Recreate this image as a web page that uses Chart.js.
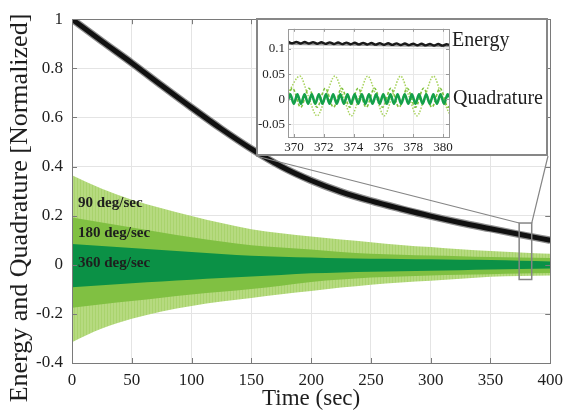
<!DOCTYPE html>
<html>
<head>
<meta charset="utf-8">
<script src="https://cdn.jsdelivr.net/npm/chart.js@4.4.1/dist/chart.umd.min.js"></script>
<style>
  html, body { margin: 0; padding: 0; background: #fff; }
  #wrap { position: relative; width: 570px; height: 417px; }
  #main { position: absolute; left: 0; top: 0; }
  #inset { position: absolute; left: 256px; top: 18px; }
</style>
</head>
<body>
<div id="wrap">
  <canvas id="main" width="570" height="417"></canvas>
  <canvas id="inset" width="292" height="138"></canvas>
</div>
<script>
// ---- main plot data ----
const timeSec = [0, 25, 50, 75, 100, 125, 150, 175, 200, 225, 250, 275, 300, 325, 350, 375, 400];
const energy  = [1.0, 0.91, 0.822, 0.73, 0.64, 0.553, 0.472, 0.40, 0.343, 0.297, 0.26, 0.228, 0.198, 0.171, 0.147, 0.123, 0.10];

// quadrature envelopes (upper / lower)
const q90Upper  = [0.365, 0.31, 0.265, 0.23, 0.199, 0.17, 0.145, 0.128, 0.115, 0.103, 0.092, 0.081, 0.072, 0.063, 0.056, 0.05, 0.045];
const q90Lower  = [-0.315, -0.26, -0.22, -0.19, -0.168, -0.15, -0.135, -0.12, -0.107, -0.093, -0.081, -0.072, -0.065, -0.057, -0.049, -0.046, -0.044];
const q180Upper = [0.192, 0.172, 0.152, 0.131, 0.112, 0.095, 0.08, 0.07, 0.062, 0.052, 0.045, 0.041, 0.038, 0.035, 0.032, 0.03, 0.028];
const q180Lower = [-0.175, -0.161, -0.148, -0.134, -0.121, -0.11, -0.099, -0.085, -0.07, -0.06, -0.052, -0.048, -0.044, -0.041, -0.039, -0.036, -0.034];
const q360Upper = [0.085, 0.076, 0.068, 0.06, 0.052, 0.044, 0.037, 0.033, 0.03, 0.027, 0.025, 0.024, 0.022, 0.02, 0.019, 0.016, 0.013];
const q360Lower = [-0.092, -0.083, -0.075, -0.068, -0.061, -0.054, -0.048, -0.042, -0.035, -0.031, -0.028, -0.026, -0.024, -0.022, -0.019, -0.017, -0.015];

const bandLabels = ['90 deg/sec', '180 deg/sec', '360 deg/sec'];
const bandLabelY = [0.252, 0.128, 0.008];

const xTicks = [0, 50, 100, 150, 200, 250, 300, 350, 400];
const yTicks = [-0.4, -0.2, 0, 0.2, 0.4, 0.6, 0.8, 1];

// zoomed window marked on the main plot
const zoomX = [374, 384.5];
const zoomY = [-0.06, 0.17];

// ---- inset data ----
const insetXTicks = [370, 372, 374, 376, 378, 380];
const insetYTicks = [-0.05, 0, 0.05, 0.1];

const insetEnergy = [
  [369.60, 0.1143], [369.88, 0.1112], [370.16, 0.1140], [370.44, 0.1109], [370.72, 0.1138],
  [371.00, 0.1107], [371.28, 0.1135], [371.56, 0.1104], [371.84, 0.1133], [372.12, 0.1101],
  [372.40, 0.1130], [372.68, 0.1099], [372.96, 0.1128], [373.24, 0.1096], [373.52, 0.1125],
  [373.80, 0.1094], [374.08, 0.1122], [374.36, 0.1091], [374.64, 0.1120], [374.92, 0.1089],
  [375.20, 0.1117], [375.48, 0.1086], [375.76, 0.1115], [376.04, 0.1083], [376.32, 0.1112],
  [376.60, 0.1081], [376.88, 0.1110], [377.16, 0.1078], [377.44, 0.1107], [377.72, 0.1076],
  [378.00, 0.1104], [378.28, 0.1073], [378.56, 0.1102], [378.84, 0.1071], [379.12, 0.1099],
  [379.40, 0.1068], [379.68, 0.1097], [379.96, 0.1065], [380.24, 0.1094], [380.40, 0.1080]
];
const insetEnergyShadow = [[369.6, 0.1105], [372, 0.1095], [375, 0.1082], [378, 0.1070], [380.4, 0.1060]];

const inset90 = [
  [369.6, 0.012], [370.4, 0.046], [370.95, 0.007], [371.55, -0.033], [372.15, 0.007],
  [372.75, 0.046], [373.3, 0.007], [373.85, -0.033], [374.4, 0.007], [374.95, 0.046],
  [375.5, 0.007], [376.05, -0.033], [376.6, 0.007], [377.15, 0.046], [377.7, 0.007],
  [378.25, -0.033], [378.8, 0.007], [379.35, 0.046], [379.9, 0.007], [380.4, -0.028]
];
const inset180 = [
  [369.6, 0.008], [369.9, 0.022], [370.45, -0.016], [371.0, 0.022], [371.55, -0.016],
  [372.1, 0.022], [372.65, -0.016], [373.2, 0.022], [373.75, -0.016], [374.3, 0.022],
  [374.85, -0.016], [375.4, 0.022], [375.95, -0.016], [376.5, 0.022], [377.05, -0.016],
  [377.6, 0.022], [378.15, -0.016], [378.7, 0.022], [379.25, -0.016], [379.8, 0.022],
  [380.35, -0.016], [380.4, -0.014]
];
const inset360 = [
  [369.6, -0.002], [369.75, 0.010], [369.99, -0.009], [370.23, 0.010], [370.47, -0.009],
  [370.71, 0.010], [370.95, -0.009], [371.19, 0.010], [371.43, -0.009], [371.67, 0.010],
  [371.91, -0.009], [372.15, 0.010], [372.39, -0.009], [372.63, 0.010], [372.87, -0.009],
  [373.11, 0.010], [373.35, -0.009], [373.59, 0.010], [373.83, -0.009], [374.07, 0.010],
  [374.31, -0.009], [374.55, 0.010], [374.79, -0.009], [375.03, 0.010], [375.27, -0.009],
  [375.51, 0.010], [375.75, -0.009], [375.99, 0.010], [376.23, -0.009], [376.47, 0.010],
  [376.71, -0.009], [376.95, 0.010], [377.19, -0.009], [377.43, 0.010], [377.67, -0.009],
  [377.91, 0.010], [378.15, -0.009], [378.39, 0.010], [378.63, -0.009], [378.87, 0.010],
  [379.11, -0.009], [379.35, 0.010], [379.59, -0.009], [379.83, 0.010], [380.07, -0.009],
  [380.31, 0.010], [380.4, 0.004]
];

const serif = "'Liberation Serif', 'Times New Roman', serif";
const insetBox = { left: 256, top: 18, width: 292, height: 138 };

function toXY(xs, ys) {
  return xs.map((x, i) => ({ x: x, y: ys[i] }));
}
function pairs(arr) {
  return arr.map(p => ({ x: p[0], y: p[1] }));
}
function fmt(v) {
  return String(Math.round(v * 1000) / 1000);
}

// light green band has fine vertical striping from the oscillation
function stripePattern(ctx) {
  const c = document.createElement('canvas');
  c.width = 3; c.height = 4;
  const g = c.getContext('2d');
  g.fillStyle = '#b6da80';
  g.fillRect(0, 0, 3, 4);
  g.fillStyle = '#a9d36d';
  g.fillRect(2, 0, 1, 4);
  return ctx.createPattern(c, 'repeat');
}

function drawInnerTicks(ctx, a, xs, xVals, ys, yVals, len) {
  ctx.beginPath();
  xVals.forEach(v => {
    const px = Math.round(xs.getPixelForValue(v)) + 0.5;
    ctx.moveTo(px, a.bottom); ctx.lineTo(px, a.bottom - len);
    ctx.moveTo(px, a.top); ctx.lineTo(px, a.top + len);
  });
  yVals.forEach(v => {
    const py = Math.round(ys.getPixelForValue(v)) + 0.5;
    ctx.moveTo(a.left, py); ctx.lineTo(a.left + len, py);
    ctx.moveTo(a.right, py); ctx.lineTo(a.right - len, py);
  });
  ctx.stroke();
}

const mainDecor = {
  id: 'mainDecor',
  afterDatasetsDraw(chart) {
    const { ctx, scales: { x, y } } = chart;
    ctx.save();
    ctx.font = 'bold 15px ' + serif;
    ctx.fillStyle = '#1e1e1e';
    ctx.textBaseline = 'middle';
    bandLabels.forEach((t, i) => {
      ctx.fillText(t, x.getPixelForValue(5), y.getPixelForValue(bandLabelY[i]));
    });
    ctx.restore();
  },
  afterDraw(chart) {
    const { ctx, chartArea: a, scales: { x, y } } = chart;
    ctx.save();
    ctx.strokeStyle = '#7a7a7a';
    ctx.lineWidth = 1;
    ctx.strokeRect(Math.round(a.left) + 0.5, Math.round(a.top) + 0.5,
                   Math.round(a.right - a.left), Math.round(a.bottom - a.top));
    drawInnerTicks(ctx, a, x, xTicks, y, yTicks, 5);

    // zoom window + connector lines to the inset
    const x0 = x.getPixelForValue(zoomX[0]), x1 = x.getPixelForValue(zoomX[1]);
    const y0 = y.getPixelForValue(zoomY[1]), y1 = y.getPixelForValue(zoomY[0]);
    ctx.strokeStyle = '#858585';
    ctx.lineWidth = 1.5;
    ctx.strokeRect(x0, y0, x1 - x0, y1 - y0);
    ctx.lineWidth = 1.2;
    ctx.beginPath();
    ctx.moveTo(insetBox.left, insetBox.top + insetBox.height);
    ctx.lineTo(x0, y0);
    ctx.moveTo(insetBox.left + insetBox.width, insetBox.top + insetBox.height);
    ctx.lineTo(x1, y0);
    ctx.stroke();

    // y axis title
    ctx.fillStyle = '#1e1e1e';
    ctx.font = '26px ' + serif;
    ctx.textAlign = 'center';
    ctx.textBaseline = 'middle';
    ctx.translate(20, 208);
    ctx.rotate(-Math.PI / 2);
    ctx.fillText('Energy and Quadrature [Normalized]', 0, 0);
    ctx.restore();
  }
};

const mainCtx = document.getElementById('main').getContext('2d');
const lightFill = stripePattern(mainCtx);

new Chart(mainCtx, {
  type: 'line',
  data: {
    datasets: [
      { data: toXY(timeSec, energy), borderColor: '#111', borderWidth: 5, cubicInterpolationMode: 'monotone', fill: false },
      { data: toXY(timeSec, energy), borderColor: '#8e8e8e', borderWidth: 7.5, cubicInterpolationMode: 'monotone', fill: false },
      { data: toXY(timeSec, q360Upper), borderWidth: 0, backgroundColor: '#0b9146', fill: '+1', cubicInterpolationMode: 'monotone' },
      { data: toXY(timeSec, q360Lower), borderWidth: 0, fill: false, cubicInterpolationMode: 'monotone' },
      { data: toXY(timeSec, q180Upper), borderWidth: 0, backgroundColor: '#80c042', fill: '+1', cubicInterpolationMode: 'monotone' },
      { data: toXY(timeSec, q180Lower), borderWidth: 0, fill: false, cubicInterpolationMode: 'monotone' },
      { data: toXY(timeSec, q90Upper), borderWidth: 0, backgroundColor: lightFill, fill: '+1', cubicInterpolationMode: 'monotone' },
      { data: toXY(timeSec, q90Lower), borderWidth: 0, fill: false, cubicInterpolationMode: 'monotone' }
    ]
  },
  options: {
    responsive: false,
    animation: false,
    layout: { padding: { top: 13, right: 17, left: 4, bottom: 4 } },
    plugins: { legend: { display: false }, tooltip: { enabled: false } },
    elements: { point: { radius: 0 } },
    scales: {
      x: {
        type: 'linear', min: 0, max: 400,
        afterBuildTicks: s => { s.ticks = xTicks.map(v => ({ value: v })); },
        afterFit: s => { s.height = 50; },
        grid: { color: '#e4e4e4', drawTicks: false },
        border: { display: false },
        ticks: { font: { family: serif, size: 17 }, color: '#1e1e1e', padding: 7, maxRotation: 0, callback: v => fmt(v) },
        title: { display: true, text: 'Time (sec)', font: { family: serif, size: 23 }, color: '#1e1e1e', padding: { top: 0, bottom: 0 } }
      },
      y: {
        type: 'linear', min: -0.4, max: 1,
        afterBuildTicks: s => { s.ticks = yTicks.map(v => ({ value: v })); },
        afterFit: s => { s.width = 68; },
        grid: { color: '#e4e4e4', drawTicks: false },
        border: { display: false },
        ticks: { font: { family: serif, size: 17 }, color: '#1e1e1e', padding: 9, callback: v => fmt(v) }
      }
    }
  },
  plugins: [mainDecor]
});

// ---- inset ----
const insetDecor = {
  id: 'insetDecor',
  beforeDraw(chart) {
    const ctx = chart.ctx;
    ctx.save();
    ctx.fillStyle = '#fff';
    ctx.fillRect(0, 0, chart.width, chart.height);
    ctx.restore();
  },
  afterDraw(chart) {
    const { ctx, chartArea: a, scales: { x, y } } = chart;
    ctx.save();
    ctx.strokeStyle = '#9a9a9a';
    ctx.lineWidth = 1;
    ctx.strokeRect(Math.round(a.left) + 0.5, Math.round(a.top) + 0.5,
                   Math.round(a.right - a.left), Math.round(a.bottom - a.top));
    drawInnerTicks(ctx, a, x, insetXTicks, y, insetYTicks, 3);
    ctx.strokeStyle = '#878787';
    ctx.lineWidth = 2;
    ctx.strokeRect(1, 1, chart.width - 2, chart.height - 2);
    ctx.fillStyle = '#1e1e1e';
    ctx.font = '20px ' + serif;
    ctx.textBaseline = 'middle';
    ctx.fillText('Energy', 196, 23);
    ctx.fillText('Quadrature', 197, 81);
    ctx.restore();
  }
};

new Chart(document.getElementById('inset').getContext('2d'), {
  type: 'line',
  data: {
    datasets: [
      { data: pairs(insetEnergy), borderColor: '#1a1a1a', borderWidth: 2.4, tension: 0.3, fill: false },
      { data: pairs(insetEnergyShadow), borderColor: '#9c9c9c', borderWidth: 2.6, tension: 0.3, fill: false },
      { data: pairs(inset360), borderColor: '#14a04a', borderWidth: 2.6, cubicInterpolationMode: 'monotone', fill: false },
      { data: pairs(inset180), borderColor: '#7fc23e', borderWidth: 1.6, borderDash: [3, 2], cubicInterpolationMode: 'monotone', fill: false },
      { data: pairs(inset90), borderColor: '#a9d35e', borderWidth: 1.5, borderDash: [1.5, 1.5], cubicInterpolationMode: 'monotone', fill: false }
    ]
  },
  options: {
    responsive: false,
    animation: false,
    layout: { padding: { top: 3, right: 99, left: 0, bottom: 0 } },
    plugins: { legend: { display: false }, tooltip: { enabled: false } },
    elements: { point: { radius: 0 } },
    scales: {
      x: {
        type: 'linear', min: 369.6, max: 380.4,
        afterBuildTicks: s => { s.ticks = insetXTicks.map(v => ({ value: v })); },
        afterFit: s => { s.height = 19; },
        grid: { color: '#e8e8e8', drawTicks: false },
        border: { display: false },
        ticks: { font: { family: serif, size: 13 }, color: '#1e1e1e', padding: 3, maxRotation: 0, callback: v => fmt(v) }
      },
      y: {
        type: 'linear', min: -0.075, max: 0.14,
        afterBuildTicks: s => { s.ticks = insetYTicks.map(v => ({ value: v })); },
        afterFit: s => { s.width = 32; },
        grid: { color: '#e8e8e8', drawTicks: false },
        border: { display: false },
        ticks: { font: { family: serif, size: 13 }, color: '#1e1e1e', padding: 3, callback: v => fmt(v) }
      }
    }
  },
  plugins: [insetDecor]
});
</script>
</body>
</html>
